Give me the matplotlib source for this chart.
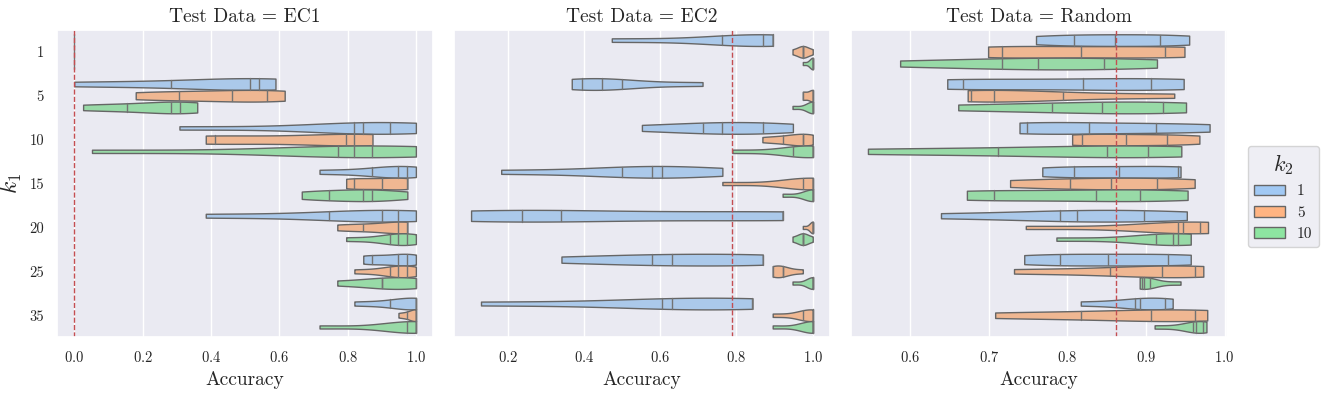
import matplotlib
matplotlib.use("Agg")
import matplotlib.pyplot as plt
import matplotlib.patches as mpatches
import pandas as pd
import seaborn as sns

# k1 categories (y axis), k2 hue levels
k1_levels = ["1", "5", "10", "15", "20", "25", "35"]
k2_levels = ["1", "5", "10"]
tests = ["EC1", "EC2", "Random"]
baseline = {"EC1": 0.0, "EC2": 0.789, "Random": 0.862}

# accuracy samples per k1 (one list of runs per k1)
ec1_k2_1 = [[0, 0, 0, 0, 0], [0.0, 0.284, 0.515, 0.540, 0.589], [0.308, 0.819, 0.846, 0.924, 1.0],
            [0.718, 0.873, 0.949, 0.973, 1.0], [0.385, 0.746, 0.900, 0.949, 1.0],
            [0.846, 0.873, 0.949, 0.975, 1.0], [0.820, 0.924, 1.0, 1.0, 1.0]]
ec1_k2_5 = [[0, 0, 0, 0, 0], [0.180, 0.308, 0.462, 0.564, 0.616], [0.385, 0.411, 0.796, 0.820, 0.873],
            [0.796, 0.820, 0.900, 0.975, 0.975], [0.770, 0.846, 0.949, 0.975, 0.975],
            [0.820, 0.924, 0.949, 0.975, 1.0], [0.949, 0.975, 1.0, 1.0, 1.0]]
ec1_k2_10 = [[0, 0, 0, 0, 0], [0.026, 0.154, 0.284, 0.309, 0.360], [0.052, 0.771, 0.820, 0.873, 1.0],
             [0.666, 0.746, 0.846, 0.873, 0.975], [0.796, 0.924, 0.949, 0.975, 1.0],
             [0.770, 0.900, 0.900, 1.0, 1.0], [0.718, 0.975, 1.0, 1.0, 1.0]]

ec2_k2_1 = [[0.473, 0.763, 0.869, 0.895, 0.895], [0.368, 0.394, 0.447, 0.500, 0.711],
            [0.552, 0.711, 0.763, 0.869, 0.948], [0.183, 0.500, 0.579, 0.605, 0.763],
            [0.104, 0.237, 0.341, 0.921, 0.921], [0.341, 0.579, 0.631, 0.869, 0.869],
            [0.130, 0.605, 0.631, 0.842, 0.842]]
ec2_k2_5 = [[0.947, 0.974, 0.974, 0.974, 1.0], [0.974, 0.974, 1.0, 1.0, 1.0],
            [0.868, 0.921, 0.974, 0.974, 1.0], [0.763, 0.974, 1.0, 1.0, 1.0],
            [0.974, 1.0, 1.0, 1.0, 1.0], [0.895, 0.895, 0.921, 0.921, 0.974],
            [0.895, 0.974, 1.0, 1.0, 1.0]]
ec2_k2_10 = [[0.974, 1.0, 1.0, 1.0, 1.0], [0.947, 1.0, 1.0, 1.0, 1.0],
             [0.789, 0.947, 1.0, 1.0, 1.0], [0.921, 1.0, 1.0, 1.0, 1.0],
             [0.947, 0.974, 0.974, 0.974, 1.0], [0.947, 1.0, 1.0, 1.0, 1.0],
             [0.895, 1.0, 1.0, 1.0, 1.0]]

rnd_k2_1 = [[0.760, 0.809, 0.860, 0.918, 0.955], [0.647, 0.667, 0.820, 0.907, 0.948],
            [0.739, 0.748, 0.828, 0.913, 0.981], [0.768, 0.809, 0.866, 0.941, 0.944],
            [0.639, 0.791, 0.812, 0.898, 0.952], [0.745, 0.791, 0.852, 0.928, 0.957],
            [0.817, 0.886, 0.892, 0.924, 0.934]]
rnd_k2_5 = [[0.699, 0.717, 0.817, 0.924, 0.949], [0.673, 0.677, 0.707, 0.794, 0.936],
            [0.806, 0.818, 0.875, 0.927, 0.968], [0.727, 0.803, 0.856, 0.914, 0.962],
            [0.747, 0.941, 0.947, 0.969, 0.979], [0.732, 0.854, 0.921, 0.963, 0.973],
            [0.708, 0.817, 0.907, 0.963, 0.978]]
rnd_k2_10 = [[0.587, 0.717, 0.763, 0.847, 0.914], [0.661, 0.780, 0.844, 0.922, 0.951],
             [0.546, 0.711, 0.851, 0.903, 0.945], [0.672, 0.706, 0.837, 0.892, 0.953],
             [0.786, 0.913, 0.935, 0.941, 0.957], [0.892, 0.895, 0.898, 0.905, 0.944],
             [0.911, 0.960, 0.964, 0.972, 0.977]]

samples = {
    "EC1": [ec1_k2_1, ec1_k2_5, ec1_k2_10],
    "EC2": [ec2_k2_1, ec2_k2_5, ec2_k2_10],
    "Random": [rnd_k2_1, rnd_k2_5, rnd_k2_10],
}

rows = []
for t in tests:
    for k2, per_k1 in zip(k2_levels, samples[t]):
        for k1, vals in zip(k1_levels, per_k1):
            for v in vals:
                rows.append({"test": t, "k1": k1, "k2": k2, "acc": v})
df = pd.DataFrame(rows)

sns.set_theme(style="darkgrid")
plt.rcParams["font.family"] = "serif"
plt.rcParams["font.serif"] = ["cmr10"]
plt.rcParams["mathtext.fontset"] = "cm"
plt.rcParams["axes.formatter.use_mathtext"] = True
plt.rcParams["axes.unicode_minus"] = False

pal = sns.color_palette("pastel")[:3]

fig, axes = plt.subplots(1, 3, figsize=(13.29, 3.93), dpi=100, sharey=True)
fig.subplots_adjust(left=0.043, right=0.923, top=0.924, bottom=0.142, wspace=0.056)

for ax, t in zip(axes, tests):
    sub = df[df["test"] == t]
    sns.violinplot(data=sub, x="acc", y="k1", hue="k2", order=k1_levels, hue_order=k2_levels,
                   orient="h", cut=0, inner="quart", density_norm="width", palette=pal,
                   linewidth=1, linecolor="0.4", legend=False, ax=ax)
    # quartile lines solid, like the original
    for ln in ax.lines:
        ln.set_linestyle("-")
        ln.set_color("0.45")
    ax.axvline(baseline[t], color="C3", linestyle="--", linewidth=1)
    ax.set_title(f"Test Data = {t}", fontsize=14)
    ax.set_xlabel("Accuracy", fontsize=14)
    ax.set_ylabel("")
    ax.tick_params(labelsize=10.5)

axes[0].set_ylabel("$k_1$", fontsize=17)
for ax in axes[1:]:
    ax.tick_params(axis="y", length=0)

handles = [mpatches.Patch(facecolor=c, edgecolor="0.4", linewidth=1) for c in pal]
fig.legend(handles, k2_levels, title="$k_2$", loc="center right", bbox_to_anchor=(0.998, 0.5),
           fontsize=11, title_fontsize=16, frameon=True)

fig.savefig("out.png", dpi=100)
